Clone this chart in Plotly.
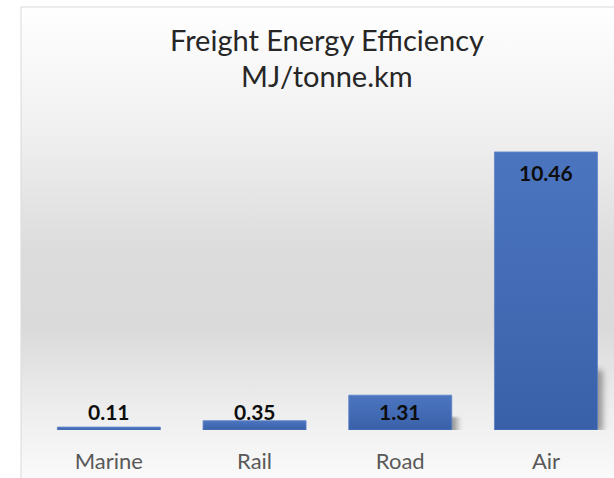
import base64
import plotly.graph_objects as go

# Freight energy intensity by transport mode
modes = ["Marine", "Rail", "Road", "Air"]
mj_per_tkm = [0.11, 0.35, 1.31, 10.46]
value_labels = ["0.11", "0.35", "1.31", "10.46"]

W, H = 614, 478
ML, MR, MT, MB = 36, 0, 111, 48
PW, PH = W - ML - MR, H - MT - MB
Y_MAX = 12.0
CAT_PX = 145.7
X_RANGE = [-0.5, PW / CAT_PX - 0.5]
BARGAP = 0.293
BAR_W = 1 - BARGAP

FONT = "Lato"
BAR_COLOR = "#3e6aba"


def px_to_paper_x(px):
    return (px - ML) / PW


def px_to_paper_y(py):
    return (H - MB - py) / PH


def svg_uri(svg):
    return "data:image/svg+xml;base64," + base64.b64encode(svg.encode()).decode()


# Soft vertical gradient behind the chart
bg_src = svg_uri(
    '<svg xmlns="http://www.w3.org/2000/svg" width="100" height="100" '
    'viewBox="0 0 100 100" preserveAspectRatio="none">'
    '<defs><linearGradient id="g" x1="0" y1="0" x2="0" y2="1">'
    '<stop offset="0" stop-color="#ffffff"/>'
    '<stop offset="0.26" stop-color="#f0f0f0"/>'
    '<stop offset="0.52" stop-color="#dcdcdc"/>'
    '<stop offset="0.68" stop-color="#dadada"/>'
    '<stop offset="0.84" stop-color="#ececec"/>'
    '<stop offset="1" stop-color="#fafafa"/>'
    '</linearGradient></defs>'
    '<rect x="0" y="0" width="100" height="100" fill="url(#g)"/></svg>'
)

# Blurred drop shadow falling to the right of each bar
shadow_src = svg_uri(
    '<svg xmlns="http://www.w3.org/2000/svg" width="40" height="100" '
    'viewBox="0 0 40 100" preserveAspectRatio="none">'
    '<defs><filter id="b" x="-50%" y="-50%" width="200%" height="200%">'
    '<feGaussianBlur stdDeviation="4"/></filter></defs>'
    '<rect x="-10" y="12" width="28" height="80" fill="#7e7e7e" '
    'fill-opacity="0.8" filter="url(#b)"/></svg>'
)

# Light-to-dark sheen laid over the bar fill
sheen_src = svg_uri(
    '<svg xmlns="http://www.w3.org/2000/svg" width="10" height="100" '
    'viewBox="0 0 10 100" preserveAspectRatio="none">'
    '<defs><linearGradient id="s" x1="0" y1="0" x2="0" y2="1">'
    '<stop offset="0" stop-color="#ffffff" stop-opacity="0.07"/>'
    '<stop offset="1" stop-color="#000000" stop-opacity="0.09"/>'
    '</linearGradient></defs>'
    '<rect x="0" y="0" width="10" height="100" fill="url(#s)"/></svg>'
)

fig = go.Figure(
    go.Bar(
        x=list(range(len(modes))),
        y=mj_per_tkm,
        marker=dict(color=BAR_COLOR, line=dict(color="#5a82c9", width=0.8)),
        hoverinfo="skip",
    )
)

box_left, box_top = 21, 7
fig.add_layout_image(
    source=bg_src,
    xref="paper", yref="paper",
    x=px_to_paper_x(box_left), y=px_to_paper_y(box_top),
    sizex=(W + 30 - box_left) / PW, sizey=(H - box_top) / PH,
    xanchor="left", yanchor="top",
    sizing="stretch", layer="below",
)

px_per_unit = PH / Y_MAX
for i, v in enumerate(mj_per_tkm):
    bar_px = v * px_per_unit
    if bar_px >= 20:
        shadow_px = 0.22 * bar_px + 8
        fig.add_layout_image(
            source=shadow_src,
            xref="x", yref="y",
            x=i + BAR_W / 2 - 10 / CAT_PX, y=shadow_px / px_per_unit,
            sizex=34 / CAT_PX, sizey=(shadow_px + 8) / px_per_unit,
            xanchor="left", yanchor="top",
            sizing="stretch", layer="below",
        )
    fig.add_layout_image(
        source=sheen_src,
        xref="x", yref="y",
        x=i - BAR_W / 2, y=v,
        sizex=BAR_W, sizey=v,
        xanchor="left", yanchor="top",
        sizing="stretch", layer="above",
    )

# Chart frame (left and top edges visible)
fig.add_shape(
    type="rect", xref="paper", yref="paper",
    x0=px_to_paper_x(box_left), x1=px_to_paper_x(W + 30),
    y0=px_to_paper_y(H + 30), y1=px_to_paper_y(box_top),
    line=dict(color="#d9d9d9", width=1), layer="below",
)

# Value labels: inside the bar end, kept clear of the baseline for short bars
min_inside_px = 42
for i, (v, lab) in enumerate(zip(mj_per_tkm, value_labels)):
    if v * px_per_unit >= min_inside_px:
        ann = dict(y=v, yanchor="top", yshift=-6)
    else:
        ann = dict(y=0, yanchor="bottom", yshift=4)
    fig.add_annotation(
        x=i, xref="x", yref="y", text=f"<b>{lab}</b>", showarrow=False,
        font=dict(family=FONT, size=21, color="#0d0d0d"), **ann,
    )

for line, cy in (("Freight Energy Efficiency", 39.5), ("MJ/tonne.km", 75.5)):
    fig.add_annotation(
        text=line, xref="paper", yref="paper",
        x=px_to_paper_x(327), y=px_to_paper_y(cy),
        xanchor="center", yanchor="middle", showarrow=False,
        font=dict(family=FONT, size=29, color="#262626"),
    )

fig.update_layout(
    width=W, height=H,
    margin=dict(l=ML, r=MR, t=MT, b=MB, pad=0),
    paper_bgcolor="white",
    plot_bgcolor="rgba(0,0,0,0)",
    bargap=BARGAP,
    showlegend=False,
    xaxis=dict(
        range=X_RANGE, tickmode="array",
        tickvals=list(range(len(modes))), ticktext=modes,
        ticks="outside", ticklen=12, tickcolor="rgba(0,0,0,0)",
        tickfont=dict(family=FONT, size=22, color="#595959"),
        showgrid=False, zeroline=False, showline=False, fixedrange=True,
    ),
    yaxis=dict(
        range=[0, Y_MAX], visible=False, showgrid=False, zeroline=False,
        fixedrange=True,
    ),
)

fig.write_html("out.html", config={"displayModeBar": False})
